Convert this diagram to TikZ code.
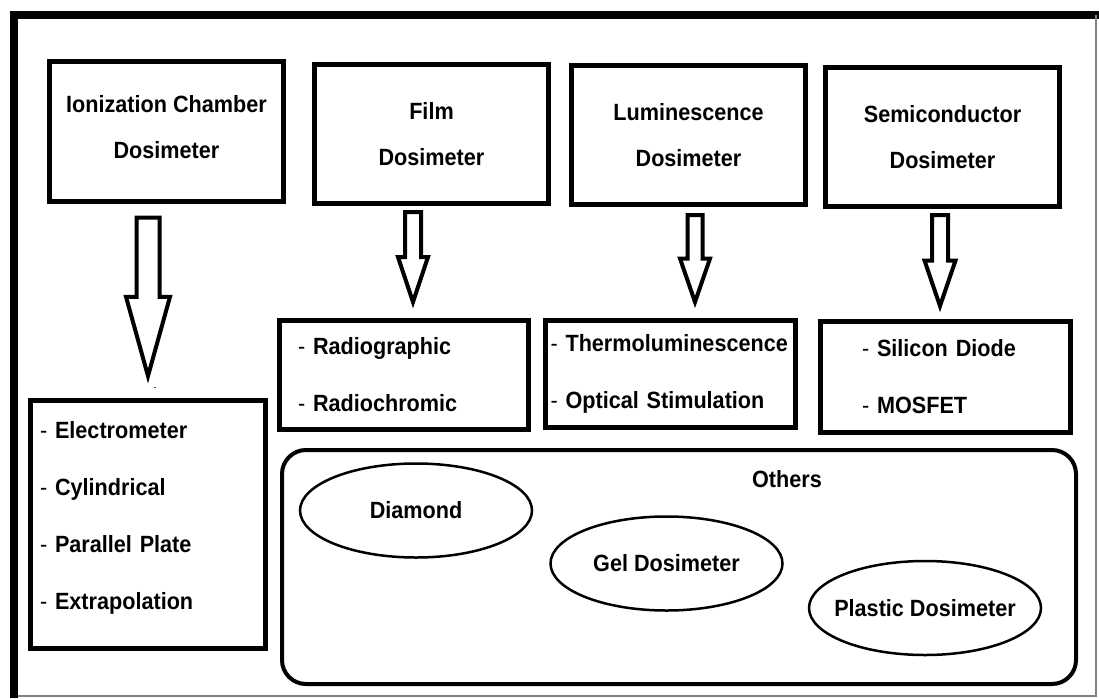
\documentclass[tikz,border=0pt]{standalone}
\usepackage{fontspec}
\setmainfont{Liberation Sans}[FakeStretch=0.92]
\usetikzlibrary{positioning, calc, shapes.geometric}
\tikzset{
    kind box/.style = {draw, rectangle, line width=5pt, minimum width=234pt, minimum height=139pt, align=center},
    list box/.style = {draw, rectangle, line width=5pt, align=left},
    type oval/.style = {draw, ellipse, line width=2.5pt, inner sep=0pt, minimum width=232pt, minimum height=94pt},
}
\tikzset{
    shaft w/.code = {\def\shaftw{#1}},
    head w/.code = {\def\headw{#1}},
    hollow arrow/.style = {draw, line width=4pt, line join=miter, to path={
        let \p1 = (\tikztostart), \p2 = (\tikztotarget), \p3 = ($(\tikztostart)!0.5!(\tikztotarget)$) in
        (\x1-\shaftw, \y1) -- (\x1+\shaftw, \y1) -- (\x1+\shaftw, \y3) -- (\x1+\headw, \y3)
        -- (\x1, \y2) -- (\x1-\headw, \y3) -- (\x1-\shaftw, \y3) -- cycle}},
}
\newcommand{\itemdash}{{\mdseries -}\ }

\begin{document}
\begin{tikzpicture}[x=1pt, y=-1pt, font=\fontsize{23.5}{28}\selectfont\bfseries]
            \useasboundingbox (0,0) rectangle (1099,698);
            \draw[line width=8pt] (14,698) -- (14,15.5) -- (1099,15.5);
            \draw[line width=2pt, gray] (1096,15.5) -- (1096,696) -- (18,696);

            \node[kind box] (ion) at (166.5,131.5) {Ionization Chamber\\[18pt]Dosimeter\\[-18pt]\mbox{}};
            \node[kind box] (film) at (431.5,134) {Film\\[18pt]Dosimeter};
            \node[kind box] (lum) at (688.5,135) {Luminescence\\[18pt]Dosimeter};
            \node[kind box] (semi) at (942.5,137) {Semiconductor\\[18pt]Dosimeter};

            \node[list box, minimum height=248pt, inner xsep=9.5pt, text width=216pt] (ionsub) at (148,524.5)
                {\itemdash Electrometer\\[29pt]\itemdash Cylindrical\\[29pt]\itemdash Parallel Plate\\[29pt]\itemdash Extrapolation\\[-10pt]\mbox{}};
            \node[list box, minimum height=109pt, inner xsep=18.5pt, text width=212pt] (filmsub) at (404,375)
                {\itemdash Radiographic\\[29pt]\itemdash Radiochromic};
            \node[list box, minimum height=107pt, inner xsep=5pt, text width=240pt] (lumsub) at (670.5,374)
                {\itemdash Thermoluminescence\\[29pt]\itemdash Optical Stimulation};
            \node[list box, minimum height=111pt, inner xsep=41.5pt, text width=167pt] (semisub) at (945.5,377)
                {\itemdash Silicon Diode\\[29pt]\itemdash MOSFET};

            \node[font=\fontsize{9}{10}\selectfont] (tick) at (155,389) {-};

            \draw[hollow arrow, shaft w=11.5pt, head w=22pt] ([yshift=-14pt]ionsub.north |- ion.south) to ([yshift=22pt]ionsub.north);
            \draw[hollow arrow, shaft w=8pt, head w=15pt] ([xshift=-18.5pt, yshift=-6pt]film.south) to ([yshift=16pt]filmsub.north);
            \draw[hollow arrow, shaft w=7.5pt, head w=15pt] ([xshift=6.5pt, yshift=-8pt]lum.south) to ([yshift=16pt]lumsub.north);
            \draw[hollow arrow, shaft w=8pt, head w=15.5pt] ([xshift=-2.5pt, yshift=-6pt]semi.south) to ([yshift=13pt]semisub.north);

            \node[draw, rounded corners=24pt, line width=4pt, minimum width=794pt, minimum height=234pt] (others box) at (679,567) {};
            \node (others) at (787,479) {Others};

            \node[type oval] (diamond) at (416,510.5) {\makebox[0pt]{Diamond}};
            \node[type oval] (gel) at (666.5,563.5) {\makebox[0pt]{Gel Dosimeter}};
            \node[type oval] (plastic) at (925,608) {\makebox[0pt]{Plastic Dosimeter}};
        \end{tikzpicture}
\end{document}
